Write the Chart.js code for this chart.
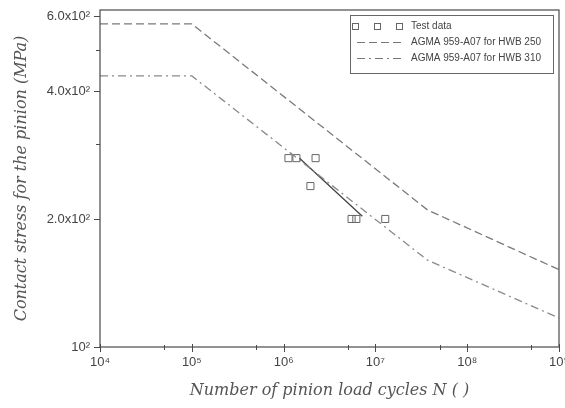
<!DOCTYPE html>
<html>
<head>
<meta charset="utf-8">
<script src="https://cdn.jsdelivr.net/npm/chart.js@4.4.0/dist/chart.umd.min.js"></script>
<style>
    body { margin: 0; background: #fff; overflow: hidden; }
    #wrap { width: 565px; height: 408px; }
</style>
</head>
<body>
<div id="wrap"><canvas id="chart" width="565" height="408"></canvas></div>
<script>
// AGMA curves
var cycles = [1e4, 1e5, 3.7e7, 1e9];
var hwb250 = [575, 575, 210, 152];
var hwb310 = [434, 434, 160, 117];

// measured points
var testCycles = [1.13e6, 1.38e6, 2.23e6, 1.96e6, 5.5e6, 6.2e6, 1.28e7];
var testStress = [278, 278, 278, 239, 200, 200, 200];

// fitted line through the test data
var fitCycles = [1.49e6, 7.2e6];
var fitStress = [278, 203];

// axis ticks
var xMajor = [1e4, 1e5, 1e6, 1e7, 1e8, 1e9];
var xMinor = [5e4, 5e5, 5e6, 5e7, 5e8];
var xLabels = ['10\u2074', '10\u2075', '10\u2076', '10\u2077', '10\u2078', '10\u2079'];
var yMajor = [100, 200, 400, 600];
var yMinor = [300, 500];
var yLabels = ['10\u00b2', '2.0x10\u00b2', '4.0x10\u00b2', '6.0x10\u00b2'];

var legendItems = [
    { label: 'Test data', type: 'squares' },
    { label: 'AGMA 959-A07 for HWB 250', dash: [8, 4] },
    { label: 'AGMA 959-A07 for HWB 310', dash: [8, 4, 2, 4] }
];

function toPoints(xs, ys) {
    return xs.map(function (x, i) { return { x: x, y: ys[i] }; });
}

var axisColor = '#4a4a4a';
var tickFont = { family: 'Liberation Sans', size: 13 };
var titleFont = { family: 'DejaVu Serif', size: 16, style: 'italic' };

var framePlugin = {
    id: 'frame',
    afterDraw: function (chart) {
        var ctx = chart.ctx;
        var a = chart.chartArea;
        var xs = chart.scales.x;
        var ys = chart.scales.y;
        ctx.save();
        ctx.strokeStyle = axisColor;
        ctx.lineWidth = 1.2;
        ctx.strokeRect(a.left, a.top, a.right - a.left, a.bottom - a.top);

        ctx.lineWidth = 1;
        ctx.beginPath();
        xMajor.forEach(function (v) {
            var px = Math.round(xs.getPixelForValue(v)) + 0.5;
            ctx.moveTo(px, a.bottom - 3);
            ctx.lineTo(px, a.bottom + 5);
        });
        xMinor.forEach(function (v) {
            var px = Math.round(xs.getPixelForValue(v)) + 0.5;
            ctx.moveTo(px, a.bottom - 2);
            ctx.lineTo(px, a.bottom + 3);
        });
        yMajor.forEach(function (v) {
            var py = Math.round(ys.getPixelForValue(v)) + 0.5;
            ctx.moveTo(a.left - 6, py);
            ctx.lineTo(a.left, py);
        });
        yMinor.forEach(function (v) {
            var py = Math.round(ys.getPixelForValue(v)) + 0.5;
            ctx.moveTo(a.left - 4, py);
            ctx.lineTo(a.left, py);
        });
        ctx.stroke();

        // legend box
        var bx = 350, by = 15, bw = 203, bh = 58;
        ctx.fillStyle = '#fff';
        ctx.fillRect(bx, by, bw, bh);
        ctx.strokeStyle = '#666';
        ctx.lineWidth = 1;
        ctx.strokeRect(bx + 0.5, by + 0.5, bw, bh);
        ctx.font = '10px "Liberation Sans"';
        ctx.textBaseline = 'middle';
        ctx.fillStyle = '#444';
        legendItems.forEach(function (item, i) {
            var ry = by + 11 + i * 16;
            if (item.type === 'squares') {
                ctx.strokeStyle = '#666';
                [355, 377, 399].forEach(function (sx) {
                    ctx.strokeRect(sx - 3 + 0.5, ry - 3 + 0.5, 6, 6);
                });
            } else {
                ctx.strokeStyle = '#777';
                ctx.lineWidth = 1.2;
                ctx.setLineDash(item.dash);
                ctx.beginPath();
                ctx.moveTo(357, ry + 0.5);
                ctx.lineTo(402, ry + 0.5);
                ctx.stroke();
                ctx.setLineDash([]);
            }
            ctx.fillText(item.label, 411, ry);
        });
        ctx.restore();
    }
};

var ctx = document.getElementById('chart').getContext('2d');
var chart = new Chart(ctx, {
    type: 'scatter',
    data: {
        datasets: [
            {
                label: 'AGMA 959-A07 for HWB 250',
                data: toPoints(cycles, hwb250),
                showLine: true,
                borderColor: '#7a7a7a',
                borderWidth: 1.3,
                borderDash: [8, 4],
                pointRadius: 0,
                fill: false
            },
            {
                label: 'AGMA 959-A07 for HWB 310',
                data: toPoints(cycles, hwb310),
                showLine: true,
                borderColor: '#8a8a8a',
                borderWidth: 1.3,
                borderDash: [8, 4, 2, 4],
                pointRadius: 0,
                fill: false
            },
            {
                label: 'Fit',
                data: toPoints(fitCycles, fitStress),
                showLine: true,
                borderColor: '#444',
                borderWidth: 1.3,
                pointRadius: 0,
                fill: false
            },
            {
                label: 'Test data',
                data: toPoints(testCycles, testStress),
                pointStyle: 'rect',
                pointRadius: 5,
                pointBorderWidth: 1,
                pointBorderColor: '#666',
                pointBackgroundColor: 'rgba(255,255,255,0)'
            }
        ]
    },
    options: {
        responsive: false,
        animation: false,
        devicePixelRatio: 1,
        layout: { padding: { left: 0, top: 10, right: 5, bottom: 0 } },
        plugins: {
            legend: { display: false },
            tooltip: { enabled: false }
        },
        scales: {
            x: {
                type: 'logarithmic',
                min: 1e4,
                max: 1e9,
                afterBuildTicks: function (scale) {
                    scale.ticks = xMajor.map(function (v) { return { value: v }; });
                },
                afterFit: function (scale) {
                    scale.height = 61;
                    scale.paddingLeft = 0;
                    scale.paddingRight = 0;
                },
                ticks: {
                    autoSkip: false,
                    maxRotation: 0,
                    padding: 8,
                    color: '#444',
                    font: tickFont,
                    callback: function (value) {
                        var i = xMajor.indexOf(value);
                        return i >= 0 ? xLabels[i] : '';
                    }
                },
                grid: { display: false, drawTicks: false },
                border: { display: false },
                title: {
                    display: true,
                    text: 'Number of pinion load cycles N ( )',
                    color: '#555',
                    font: titleFont,
                    padding: { top: 0, bottom: 8 }
                }
            },
            y: {
                type: 'logarithmic',
                min: 100,
                max: 620,
                afterBuildTicks: function (scale) {
                    scale.ticks = yMajor.map(function (v) { return { value: v }; });
                },
                afterFit: function (scale) {
                    scale.width = 100;
                    scale.paddingTop = 0;
                    scale.paddingBottom = 0;
                },
                ticks: {
                    autoSkip: false,
                    padding: 10,
                    color: '#444',
                    font: tickFont,
                    callback: function (value) {
                        var i = yMajor.indexOf(value);
                        return i >= 0 ? yLabels[i] : '';
                    }
                },
                grid: { display: false, drawTicks: false },
                border: { display: false },
                title: {
                    display: true,
                    text: 'Contact stress for the pinion (MPa)',
                    color: '#555',
                    font: titleFont,
                    padding: { top: 12, bottom: 0 }
                }
            }
        }
    },
    plugins: [framePlugin]
});
</script>
</body>
</html>
